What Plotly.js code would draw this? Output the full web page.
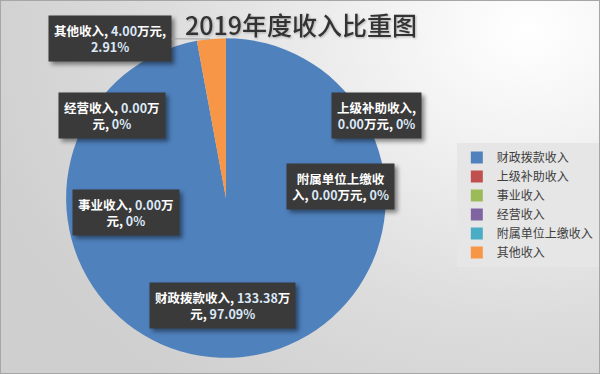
<!DOCTYPE html>
<html>
<head>
<meta charset="utf-8">
<script src="https://cdn.plot.ly/plotly-3.0.1.min.js"></script>
<style>
html,body{margin:0;padding:0;}
#wrap{position:relative;width:598px;height:372px;border:1px solid #a6a6a6;
background:radial-gradient(ellipse 95% 120% at 88% 8%, #ffffff 0%, #f2f2f2 25%, #dcdcdc 65%, #cfcfcf 100%);}
#chart{width:598px;height:372px;}
#chart .annotation rect.bg{filter:drop-shadow(3px 3px 2px rgba(0,0,0,0.45));}
#chart .gtitle{filter:drop-shadow(1px 1px 1px rgba(0,0,0,0.25));}
</style>
</head>
<body>
<div id="wrap"><div id="chart"></div></div>
<script>
const title = '2019年度收入比重图';
const categories = ['财政拨款收入','上级补助收入','事业收入','经营收入','附属单位上缴收入','其他收入'];
const values = [133.38, 0, 0, 0, 0, 4.00];
const unit = '万元';
const colors = ['#4F81BD','#C0504D','#9BBB59','#8064A2','#4BACC6','#F79646'];

// label styling / placement (pixel box centres, line-break char index)
const labelPos = [
  {cx:225, cy:304, brk:15},
  {cx:381, cy:115, brk:7},
  {cx:127, cy:211, brk:11},
  {cx:112, cy:115, brk:11},
  {cx:344, cy:185, brk:7},
  {cx:112, cy:37.5, brk:13, arrow:{x:212, y:38}}
];
const W = 598, H = 372;
const total = values.reduce((a,b)=>a+b,0);

function fmtPct(v){
  const p = v/total*100;
  if (p === 0) return '0%';
  return p.toFixed(2) + '%';
}
function buildText(i){
  const full = categories[i] + ', ' + values[i].toFixed(2) + unit + ', ' + fmtPct(values[i]);
  const b = labelPos[i].brk;
  let t = full.slice(0,b) + '<br>' + full.slice(b).replace(/^\s+/,'');
  return t.replace(/([0-9][0-9.%]*)/g, '<span style="color:#dbe8f8">$1</span>');
}

const annotations = [];
labelPos.forEach((p,i)=>{
  const txt = buildText(i);
  const a = {
    xref:'paper', yref:'paper', xanchor:'center', yanchor:'middle',
    text: txt, bgcolor:'#3a3a3a', borderpad:5,
    font:{family:'Noto Sans CJK SC', size:12.5, color:'#ffffff', weight:700}
  };
  if (p.arrow){
    a.x = p.arrow.x/W; a.y = 1-p.arrow.y/H;
    a.showarrow = true; a.arrowhead = 0; a.arrowwidth = 1; a.arrowcolor = '#a0a0a0';
    a.axref = 'pixel'; a.ayref = 'pixel'; a.ax = p.cx - p.arrow.x; a.ay = p.cy - p.arrow.y;
  } else {
    a.x = p.cx/W; a.y = 1-p.cy/H; a.showarrow = false;
  }
  annotations.push(a);
});

const cx = 228, cy = 197, r = 162;
const trace = {
  type:'pie', labels:categories, values:values, sort:false, direction:'clockwise', rotation:0,
  marker:{colors:colors, line:{width:0}}, textinfo:'none', hoverinfo:'skip',
  domain:{x:[(cx-r)/W,(cx+r)/W], y:[1-(cy+r)/H, 1-(cy-r)/H]}
};

const layout = {
  width:W, height:H, margin:{l:0,r:0,t:0,b:0},
  paper_bgcolor:'rgba(0,0,0,0)', plot_bgcolor:'rgba(0,0,0,0)',
  title:{text:title, x:300/W, xanchor:'center', y:1-25/H, yanchor:'middle',
    font:{family:'Noto Sans CJK SC', size:25, color:'#333333', weight:500}},
  showlegend:true,
  legend:{x:462/W, xanchor:'left', y:1-142/H, yanchor:'top', bgcolor:'#e6e6e6',
    font:{family:'Noto Sans CJK SC', size:12, color:'#404040'}, traceorder:'normal',
    itemclick:false},
  annotations:annotations
};
Plotly.newPlot('chart',[trace],layout,{displayModeBar:false, staticPlot:true});
</script>
</body>
</html>
